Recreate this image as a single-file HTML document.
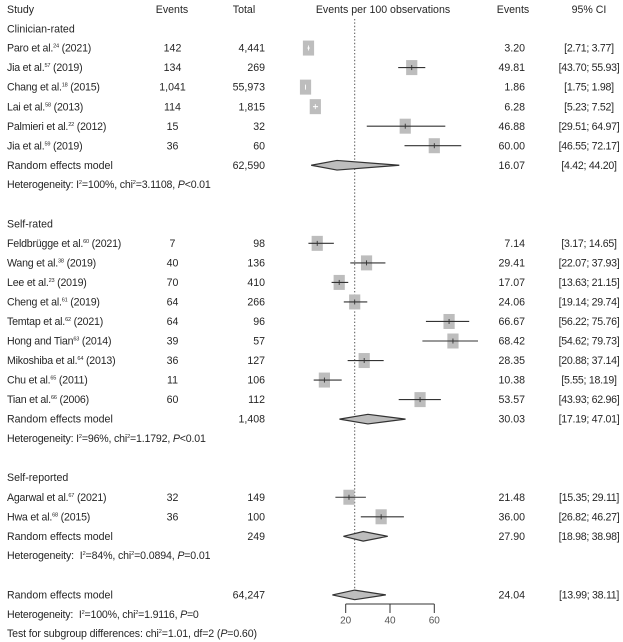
<!DOCTYPE html>
<html lang="en">
<head>
<meta charset="utf-8">
<title>Forest plot</title>
<style>
html,body{margin:0;padding:0;background:#fff;width:623px;height:642px;overflow:hidden}
svg{display:block;filter:blur(0.3px)}
text{font-family:"Liberation Sans",sans-serif;font-size:10.6px;fill:#262626}
.m{text-anchor:middle}
.e{text-anchor:end}
.s{font-size:5.6px}
.i{font-style:italic}
.lbl{letter-spacing:-0.2px}
.ci{letter-spacing:-0.28px}
.tick{font-size:10px;fill:#555}
</style>
</head>
<body>
<svg id="plot" xmlns="http://www.w3.org/2000/svg" width="623" height="642" viewBox="0 0 623 642">
  <g>
    <text x="7" y="13">Study</text>
    <text x="172" y="13" class="m">Events</text>
    <text x="244" y="13" class="m">Total</text>
    <text x="383" y="13" class="m">Events per 100 observations</text>
    <text x="513" y="13" class="m">Events</text>
    <text x="589" y="13" class="m">95% CI</text>
  </g>
  <g>
    <text x="7" y="32.5">Clinician-rated</text>
    <text x="7" y="227.5">Self-rated</text>
    <text x="7" y="481">Self-reported</text>
  </g>
  <g>
    <text x="7" y="188" style="letter-spacing:-0.18px">Heterogeneity: I<tspan class="s" dy="-4">2</tspan><tspan dy="4">=100%, chi</tspan><tspan class="s" dy="-4">2</tspan><tspan dy="4">=3.1108, </tspan><tspan class="i">P</tspan>&lt;0.01</text>
    <text x="7" y="442" style="letter-spacing:-0.18px">Heterogeneity: I<tspan class="s" dy="-4">2</tspan><tspan dy="4">=96%, chi</tspan><tspan class="s" dy="-4">2</tspan><tspan dy="4">=1.1792, </tspan><tspan class="i">P</tspan>&lt;0.01</text>
    <text x="7" y="559" style="letter-spacing:-0.14px">Heterogeneity: <tspan dx="3">I</tspan><tspan class="s" dy="-4">2</tspan><tspan dy="4">=84%, chi</tspan><tspan class="s" dy="-4">2</tspan><tspan dy="4">=0.0894, </tspan><tspan class="i">P</tspan>=0.01</text>
    <text x="7" y="618" style="letter-spacing:-0.2px">Heterogeneity: <tspan dx="3">I</tspan><tspan class="s" dy="-4">2</tspan><tspan dy="4">=100%, chi</tspan><tspan class="s" dy="-4">2</tspan><tspan dy="4">=1.9116, </tspan><tspan class="i">P</tspan>=0</text>
    <text x="7" y="637" style="letter-spacing:-0.12px">Test for subgroup differences: chi<tspan class="s" dy="-4">2</tspan><tspan dy="4">=1.01, df=2 (</tspan><tspan class="i">P</tspan>=0.60)</text>
  </g>
  <line id="refline" x1="354.7" x2="354.7" y1="19" y2="590" stroke="#555" stroke-width="1" stroke-dasharray="1.4 2"/>
  <g id="rows"></g>
  <g id="pooled"></g>
  <g id="axis"></g>
</svg>
<script>
// Study data
const studyNames = ["Paro et al.","Jia et al.","Chang et al.","Lai et al.","Palmieri et al.","Jia et al.",
  "Feldbrügge et al.","Wang et al.","Lee et al.","Cheng et al.","Temtap et al.","Hong and Tian","Mikoshiba et al.","Chu et al.","Tian et al.",
  "Agarwal et al.","Hwa et al."];
const studyRefs = ["24","57","18","58","22","59","60","38","23","61","62","63","64","65","66","67","68"];
const studyYears = ["2021","2019","2015","2013","2012","2019","2021","2019","2019","2019","2021","2014","2013","2011","2006","2021","2015"];
const studyEvents = ["142","134","1,041","114","15","36","7","40","70","64","64","39","36","11","60","32","36"];
const studyTotals = ["4,441","269","55,973","1,815","32","60","98","136","410","266","96","57","127","106","112","149","100"];
const studyRates = [3.20,49.81,1.86,6.28,46.88,60.00,7.14,29.41,17.07,24.06,66.67,68.42,28.35,10.38,53.57,21.48,36.00];
const studyLower = [2.71,43.70,1.75,5.23,29.51,46.55,3.17,22.07,13.63,19.14,56.22,54.62,20.88,5.55,43.93,15.35,26.82];
const studyUpper = [3.77,55.93,1.98,7.52,64.97,72.17,14.65,37.93,21.15,29.74,75.76,79.73,37.14,18.19,62.96,29.11,46.27];
const studyRowIndex = [2,3,4,5,6,7,12,13,14,15,16,17,18,19,20,25,26];
// Pooled data
const pooledTotals = ["62,590","1,408","249","64,247"];
const pooledRates = [16.07,30.03,27.90,24.04];
const pooledLower = [4.42,17.19,18.98,13.99];
const pooledUpper = [44.20,47.01,38.98,38.11];
const pooledRowIndex = [8,21,27,30];
// Axis
const axisTicks = [20,40,60];

const NS = "http://www.w3.org/2000/svg";
const xScale = v => 345.7 + (v - 20) * (434.3 - 345.7) / 40;
const yScale = r => 9 + r * 19.53;
const fmt = v => v.toFixed(2);
const BOX_HALF_WIDTH = 5.6;
function mk(tag, parent, attrs, txt){
  const el = document.createElementNS(NS, tag);
  for (const k in attrs) el.setAttribute(k, attrs[k]);
  if (txt !== undefined) el.textContent = txt;
  parent.appendChild(el);
  return el;
}
const rows = document.getElementById("rows");
studyNames.forEach((name, i) => {
  const y = yScale(studyRowIndex[i]);
  const ty = y + 3.6;
  const g = mk("g", rows, {});
  
  
  const label = mk("text", g, {x: 7, y: ty, class: "lbl"});
  
  
  mk("tspan", label, {}, name);
  mk("tspan", label, {class: "s", dy: -4}, studyRefs[i]);
  mk("tspan", label, {dy: 4}, " (" + studyYears[i] + ")");
  const ev = mk("text", g, {x: 172.5, y: ty, class: "m"}, studyEvents[i]);
  
  
  const tot = mk("text", g, {x: 265, y: ty, class: "e"}, studyTotals[i]);
  
  
  const rate = mk("text", g, {x: 525, y: ty, class: "e"}, fmt(studyRates[i]));
  
  
  const ci = mk("text", g, {x: 589, y: ty, class: "m ci"}, "[" + fmt(studyLower[i]) + "; " + fmt(studyUpper[i]) + "]");
  
  
  const cx = xScale(studyRates[i]);
  const x1 = xScale(studyLower[i]);
  const x2 = xScale(studyUpper[i]);
  const inside = x1 > cx - BOX_HALF_WIDTH && x2 < cx + BOX_HALF_WIDTH;
  const markColor = inside ? "#fff" : "#333";
  const box = mk("rect", g, {x: cx - BOX_HALF_WIDTH, y: y - 7.5, width: BOX_HALF_WIDTH * 2, height: 15, fill: "#bdbdbd"});
  
  
  const whisker = mk("line", g, {x1: x1, x2: x2, y1: y, y2: y, stroke: markColor, "stroke-width": 1.1});
  
  
  const tick = mk("line", g, {x1: cx, x2: cx, y1: y - 2.5, y2: y + 2.5, stroke: markColor, "stroke-width": 0.9});
  
  
});
const pooled = document.getElementById("pooled");
pooledTotals.forEach((total, i) => {
  const y = yScale(pooledRowIndex[i]);
  const ty = y + 3.6;
  const g = mk("g", pooled, {});
  
  
  const label = mk("text", g, {x: 7, y: ty}, "Random effects model");
  
  
  const tot = mk("text", g, {x: 265, y: ty, class: "e"}, total);
  
  
  const rate = mk("text", g, {x: 525, y: ty, class: "e"}, fmt(pooledRates[i]));
  
  
  const ci = mk("text", g, {x: 589, y: ty, class: "m ci"}, "[" + fmt(pooledLower[i]) + "; " + fmt(pooledUpper[i]) + "]");
  
  
  const d = mk("polygon", g, {
    points: [[xScale(pooledLower[i]), y], [xScale(pooledRates[i]), y - 4.8], [xScale(pooledUpper[i]), y], [xScale(pooledRates[i]), y + 4.8]].map(p => p.join(",")).join(" "),
    fill: "#bdbdbd", stroke: "#333", "stroke-width": 1.2
  });
  
  
});
const axis = document.getElementById("axis");
const axisLine = mk("line", axis, {x1: xScale(axisTicks[0]), x2: xScale(axisTicks[axisTicks.length - 1]), y1: 604, y2: 604, stroke: "#333", "stroke-width": 1});


axisTicks.forEach(t => {
  const tk = mk("line", axis, {x1: xScale(t), x2: xScale(t), y1: 604, y2: 613, stroke: "#333", "stroke-width": 1});
  
  
  const lb = mk("text", axis, {x: xScale(t), y: 623.5, class: "m tick"}, String(t));
  
  
});
</script>
</body>
</html>
